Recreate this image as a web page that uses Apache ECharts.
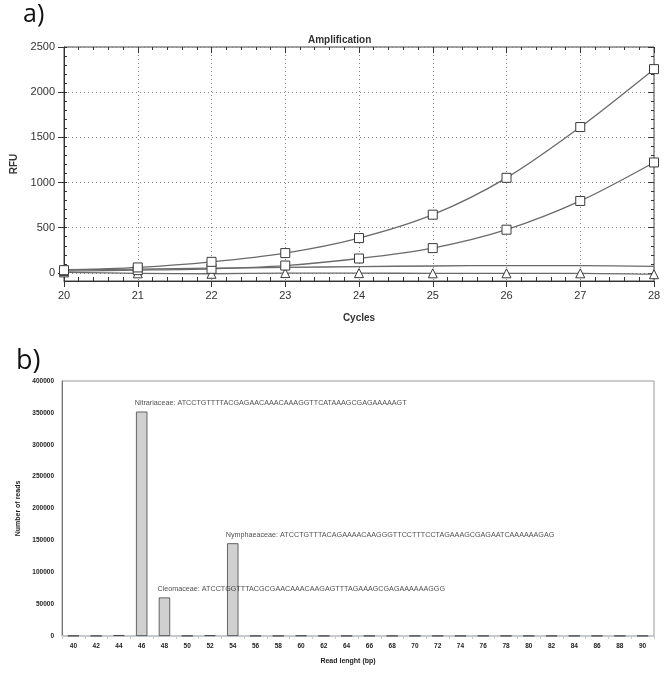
<!DOCTYPE html>
<html>
<head>
<meta charset="utf-8">
<script src="https://cdn.jsdelivr.net/npm/echarts@6/dist/echarts.min.js"></script>
<style>
html,body{margin:0;padding:0;background:#fff;}
#c{width:669px;height:676px;}
</style>
</head>
<body>
<div id="c"></div>
<script>
// ---- Panel a data ----
const cycles = [20, 21, 22, 23, 24, 25, 26, 27, 28];
const rfuHigh = [30, 60, 122, 219, 385, 644, 1052, 1614, 2255];
const rfuMid = [20, 30, 45, 81, 159, 274, 478, 796, 1222];
const rfuFlat = [35, 42, 52, 60, 70, 76, 81, 80, 72];
const rfuLow = [5, -5, -10, -2, -3, -5, -5, -5, -15];
const rfuTicks = [0, 500, 1000, 1500, 2000, 2500];
const rfuMinor = [];
for (let v = 0; v <= 2500; v += 100) rfuMinor.push(v);

// ---- Panel b data ----
const lengths = ['40','42','44','46','48','50','52','54','56','58','60','62','64','66','68','70','72','74','76','78','80','82','84','86','88','90'];
const reads = [400, 400, 1500, 352000, 60500, 400, 1200, 145500, 300, 300, 800, 300, 300, 300, 300, 300, 300, 300, 300, 300, 300, 300, 300, 300, 300, 300];
const annoNames = [
  'Nitrariaceae: ATCCTGTTTTACGAGAACAAACAAAGGTTCATAAAGCGAGAAAAAGT',
  'Cleomaceae: ATCCTGGTTTACGCGAACAAACAAGAGTTTAGAAAGCGAGAAAAAAGGG',
  'Nymphaeaceae: ATCCTGTTTACAGAAAACAAGGGTTCCTTTCCTAGAAAGCGAGAATCAAAAAAGAG'
];
const annoX = ['46', '48', '54'];
const annoY = [364800, 73900, 158800];

const FONT = 'Liberation Sans, Arial, sans-serif';
const pair = (xs, ys) => xs.map((x, i) => [x, ys[i]]);
const plain = v => String(v);

const chart = echarts.init(document.getElementById('c'), null, {renderer: 'canvas'});

const lineSeries = (data, symbol, show) => ({
  type: 'line', xAxisIndex: 0, yAxisIndex: 0,
  data: data, smooth: 0.3, symbol: symbol, symbolSize: 9, showSymbol: show,
  lineStyle: {color: '#6a6a6a', width: 1.3},
  itemStyle: {color: '#ffffff', borderColor: '#3a3a3a', borderWidth: 1},
  emphasis: {disabled: true}, animation: false, z: 3
});

chart.setOption({
  animation: false,
  backgroundColor: '#fff',
  textStyle: {fontFamily: FONT},
  title: [
    {text: 'a)', left: 18, top: -3, textStyle: {fontFamily: 'Open Sans', fontSize: 25, fontWeight: 'normal', color: '#111'}},
    {text: 'b)', left: 11, top: 343, textStyle: {fontFamily: 'Open Sans', fontSize: 27, fontWeight: 'normal', color: '#111'}},
    {text: 'Amplification', left: 303, top: 30, textStyle: {fontFamily: FONT, fontSize: 10, fontWeight: 'bold', color: '#333'}}
  ],
  grid: [
    {left: 64, right: 15, top: 47, height: 234, show: true, borderColor: '#444', borderWidth: 1, backgroundColor: 'transparent'},
    {left: 62, right: 15, top: 381, height: 255, show: true, borderColor: '#999', borderWidth: 1, backgroundColor: 'transparent'}
  ],
  xAxis: [
    {gridIndex: 0, type: 'value', min: 20, max: 28, interval: 1, position: 'bottom',
      axisLine: {show: true, onZero: false, lineStyle: {color: '#333'}},
      axisTick: {show: true, length: 6, lineStyle: {color: '#333'}},
      axisLabel: {fontSize: 11, color: '#333', margin: 9, fontFamily: FONT, formatter: plain},
      splitLine: {show: true, lineStyle: {type: [1, 3], color: '#888'}},
      name: 'Cycles', nameLocation: 'middle', nameGap: 32,
      nameTextStyle: {fontSize: 10, fontWeight: 'bold', color: '#333', fontFamily: FONT}},
    {gridIndex: 0, type: 'value', min: 20, max: 28, interval: 1, position: 'bottom',
      axisLine: {show: false, onZero: false}, axisLabel: {show: false}, splitLine: {show: false},
      axisTick: {show: false, inside: true},
      minorTick: {show: true, splitNumber: 5, length: 4, lineStyle: {color: '#333'}}},
    {gridIndex: 0, type: 'value', min: 20, max: 28, interval: 1, position: 'top',
      axisLine: {show: false, onZero: false}, axisLabel: {show: false}, splitLine: {show: false},
      axisTick: {show: true, inside: true, length: 6, lineStyle: {color: '#333'}},
      minorTick: {show: true, splitNumber: 5, length: 3, lineStyle: {color: '#333'}}},
    {gridIndex: 1, type: 'category', data: lengths, boundaryGap: true,
      axisLine: {show: true, onZero: false, lineStyle: {color: '#c4c9ce', width: 1.5}},
      axisTick: {show: true, length: 3, lineStyle: {color: '#c4c9ce'}},
      axisLabel: {interval: 0, fontSize: 6.5, fontWeight: 'bold', color: '#222', margin: 7, fontFamily: FONT},
      name: 'Read lenght (bp)', nameLocation: 'middle', nameGap: 22,
      nameTextStyle: {fontSize: 7, fontWeight: 'bold', color: '#222', fontFamily: FONT, padding: [0, 20, 0, 0]}}
  ],
  yAxis: [
    {gridIndex: 0, type: 'value', min: -90, max: 2500, position: 'left',
      axisLine: {show: true, lineStyle: {color: '#333'}},
      axisTick: {show: true, length: 6, customValues: rfuTicks, lineStyle: {color: '#333'}},
      axisLabel: {customValues: rfuTicks, fontSize: 11, color: '#333', margin: 9, fontFamily: FONT, formatter: plain},
      splitLine: {show: true, lineStyle: {type: [1, 3], color: '#888'}},
      name: 'RFU', nameLocation: 'middle', nameGap: 42, nameRotate: 90,
      nameTextStyle: {fontSize: 10, fontWeight: 'bold', color: '#333', fontFamily: FONT}},
    {gridIndex: 0, type: 'value', min: -90, max: 2500, position: 'left',
      axisLine: {show: false}, axisLabel: {show: false}, splitLine: {show: false},
      axisTick: {show: true, inside: true, length: 3, customValues: rfuMinor, lineStyle: {color: '#333'}}},
    {gridIndex: 0, type: 'value', min: -90, max: 2500, position: 'right',
      axisLine: {show: false}, axisLabel: {show: false}, splitLine: {show: false},
      axisTick: {show: true, inside: true, length: 3, customValues: rfuMinor, lineStyle: {color: '#333'}}},
    {gridIndex: 0, type: 'value', min: -90, max: 2500, position: 'right',
      axisLine: {show: false}, axisLabel: {show: false}, splitLine: {show: false},
      axisTick: {show: true, inside: true, length: 6, customValues: rfuTicks, lineStyle: {color: '#333'}}},
    {gridIndex: 1, type: 'value', min: 0, max: 400000, interval: 50000,
      axisLine: {show: true, lineStyle: {color: '#777'}},
      axisTick: {show: false},
      axisLabel: {fontSize: 6.5, fontWeight: 'bold', color: '#222', margin: 8, fontFamily: FONT, formatter: plain},
      splitLine: {show: false},
      name: 'Number of reads', nameLocation: 'middle', nameGap: 40, nameRotate: 90,
      nameTextStyle: {fontSize: 7, fontWeight: 'bold', color: '#222', fontFamily: FONT}}
  ],
  series: [
    lineSeries(pair(cycles, rfuFlat), 'none', false),
    lineSeries(pair(cycles, rfuLow), 'triangle', true),
    lineSeries(pair(cycles, rfuMid), 'rect', true),
    lineSeries(pair(cycles, rfuHigh), 'rect', true),
    {type: 'bar', xAxisIndex: 3, yAxisIndex: 4, data: reads, barWidth: '50%',
      itemStyle: {color: '#d0d0d0', borderColor: '#444', borderWidth: 0.8},
      emphasis: {disabled: true}},
    {type: 'scatter', xAxisIndex: 3, yAxisIndex: 4, symbolSize: 0,
      data: annoNames.map((n, i) => ({name: n, value: [annoX[i], annoY[i]]})),
      label: {show: true, position: 'inside', align: 'left', offset: [-7, 0],
        formatter: p => p.name, fontSize: 7.2, color: '#222', fontFamily: FONT},
      emphasis: {disabled: true}, z: 5}
  ]
});
</script>
</body>
</html>
